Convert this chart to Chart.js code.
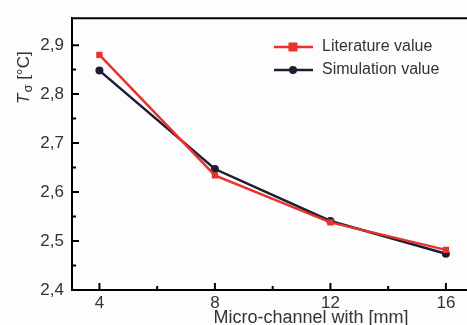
<!DOCTYPE html>
<html>
<head>
<meta charset="utf-8">
<script src="https://cdn.jsdelivr.net/npm/chart.js@4/dist/chart.umd.min.js"></script>
<style>
  html, body { margin: 0; padding: 0; background: #fdfdfd; overflow: hidden; }
  #wrap { width: 550px; height: 325px; }
</style>
</head>
<body>
<div id="wrap"><canvas id="chart"></canvas></div>
<script>
// data
const widths = [4, 8, 12, 16];
const literature = [2.880, 2.634, 2.538, 2.482];
const simulation = [2.848, 2.647, 2.541, 2.474];
const xTicks = [4, 8, 12, 16];
const xMinor = [6, 10, 14];
const yTicks = [2.4, 2.5, 2.6, 2.7, 2.8, 2.9];
const yMinor = [2.45, 2.55, 2.65, 2.75, 2.85];

const RED = '#e8322b';
const DARK = '#1d1d33';
const FONT = '"Liberation Sans", Arial, sans-serif';

// ticks pointing inward, top frame, titles and legend
const decorations = {
    id: 'decorations',
    afterDraw(chart) {
        const ctx = chart.ctx;
        const area = chart.chartArea;
        const xs = chart.scales.x;
        const ys = chart.scales.y;
        ctx.save();
        ctx.strokeStyle = '#000';
        ctx.lineWidth = 2;
        ctx.beginPath();
        ctx.moveTo(area.left - 1, area.top);
        ctx.lineTo(area.right, area.top);
        xTicks.forEach(v => { const p = xs.getPixelForValue(v); ctx.moveTo(p, area.bottom); ctx.lineTo(p, area.bottom - 7); });
        xMinor.forEach(v => { const p = xs.getPixelForValue(v); ctx.moveTo(p, area.bottom); ctx.lineTo(p, area.bottom - 4); });
        yTicks.forEach(v => { const p = ys.getPixelForValue(v); ctx.moveTo(area.left, p); ctx.lineTo(area.left + 7, p); });
        yMinor.forEach(v => { const p = ys.getPixelForValue(v); ctx.moveTo(area.left, p); ctx.lineTo(area.left + 4, p); });
        ctx.stroke();

        // axis titles
        ctx.fillStyle = '#333';
        ctx.textBaseline = 'middle';
        ctx.font = '18px ' + FONT;
        ctx.textAlign = 'center';
        ctx.fillText('Micro-channel with [mm]', 311, 318);

        ctx.translate(24, 104);
        ctx.rotate(-Math.PI / 2);
        ctx.textAlign = 'left';
        ctx.font = 'italic 17px ' + FONT;
        ctx.fillText('T', 0, 0);
        let w = ctx.measureText('T').width;
        ctx.font = '13px ' + FONT;
        ctx.fillText('\u03c3', w + 1, 4);
        w += ctx.measureText('\u03c3').width + 1;
        ctx.font = '17px ' + FONT;
        ctx.fillText(' [\u00b0C]', w, 0);
        ctx.restore();

        // legend
        ctx.save();
        const rows = [
            { label: chart.data.datasets[0].label, color: RED, y: 47, square: true },
            { label: chart.data.datasets[1].label, color: DARK, y: 70, square: false }
        ];
        rows.forEach(r => {
            ctx.strokeStyle = r.color;
            ctx.lineWidth = 2.5;
            ctx.beginPath();
            ctx.moveTo(274, r.y);
            ctx.lineTo(313, r.y);
            ctx.stroke();
            ctx.fillStyle = r.color;
            if (r.square) {
                ctx.fillRect(288.5, r.y - 4.5, 9, 9);
            } else {
                ctx.beginPath();
                ctx.arc(293, r.y, 4, 0, Math.PI * 2);
                ctx.fill();
            }
            ctx.fillStyle = '#333';
            ctx.font = '16px ' + FONT;
            ctx.textAlign = 'left';
            ctx.textBaseline = 'middle';
            ctx.fillText(r.label, 322, r.y);
        });
        ctx.restore();
    }
};

new Chart(document.getElementById('chart').getContext('2d'), {
    type: 'line',
    data: {
        datasets: [{
            label: 'Literature value',
            data: widths.map((x, i) => ({ x: x, y: literature[i] })),
            borderColor: RED,
            backgroundColor: RED,
            borderWidth: 2.5,
            pointStyle: 'rect',
            pointRadius: 4.5,
            pointBorderWidth: 0,
            tension: 0
        }, {
            label: 'Simulation value',
            data: widths.map((x, i) => ({ x: x, y: simulation[i] })),
            borderColor: DARK,
            backgroundColor: DARK,
            borderWidth: 2.5,
            pointStyle: 'circle',
            pointRadius: 4,
            pointBorderWidth: 0,
            tension: 0
        }]
    },
    options: {
        responsive: true,
        maintainAspectRatio: false,
        animation: false,
        layout: { padding: { top: 13, left: 0, right: 0, bottom: 0 } },
        plugins: { legend: { display: false }, tooltip: { enabled: false } },
        scales: {
            x: {
                type: 'linear',
                min: 3.05,
                max: 19.45,
                afterBuildTicks: s => { s.ticks = xTicks.map(v => ({ value: v })); },
                afterFit: s => { s.height = 35; },
                grid: { display: false, drawTicks: false },
                border: { color: '#000', width: 2 },
                ticks: { color: '#333', font: { family: FONT, size: 17 }, padding: 3, maxRotation: 0 }
            },
            y: {
                min: 2.4,
                max: 2.955,
                afterBuildTicks: s => { s.ticks = yTicks.map(v => ({ value: v })); },
                afterFit: s => { s.width = 72; },
                grid: { display: false, drawTicks: false },
                border: { color: '#000', width: 2 },
                ticks: {
                    color: '#333',
                    font: { family: FONT, size: 17 },
                    padding: 8,
                    callback: v => v.toFixed(1).replace('.', ',')
                }
            }
        }
    },
    plugins: [decorations]
});
</script>
</body>
</html>
